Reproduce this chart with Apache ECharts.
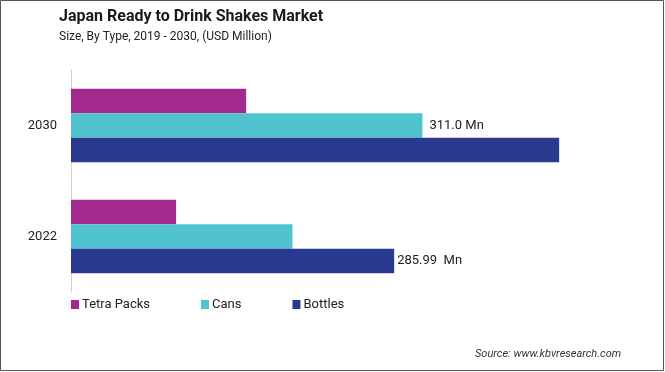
<!DOCTYPE html>
<html>
<head>
<meta charset="utf-8">
<script src="https://cdn.jsdelivr.net/npm/echarts@6/dist/echarts.min.js"></script>
<style>
html,body{margin:0;padding:0;background:#fff;}
#c{width:665px;height:372px;}
</style>
</head>
<body>
<div id="c"></div>
<script>
const categories = ['2022', '2030'];
const seriesNames = ['Tetra Packs', 'Cans', 'Bottles'];
const tetraPacks = [93, 155];
const cans = [196, 311.0];
const bottles = [285.99, 432];
const labelText = { 'Cans-2030': '311.0 Mn', 'Bottles-2022': '285.99  Mn' };

const colors = { 'Tetra Packs': '#A22A8F', 'Cans': '#4FC4CF', 'Bottles': '#2A3990' };
const FONT = 'Roboto';

function mkData(name, arr, dist) {
  return arr.map((v, i) => {
    const key = name + '-' + categories[i];
    if (labelText[key]) {
      return { value: v, label: { show: true, position: 'right', distance: dist, formatter: labelText[key],
        color: '#222', fontSize: 13, fontFamily: FONT } };
    }
    return v;
  });
}

const chart = echarts.init(document.getElementById('c'), null, { renderer: 'canvas' });
chart.setOption({
  animation: false,
  backgroundColor: '#fff',
  title: [
    { text: 'Japan Ready to Drink Shakes Market', left: 54, top: 4,
      textStyle: { fontFamily: 'Roboto', fontWeight: 'bold', fontSize: 16, color: '#1a1a1a' } },
    { text: 'Size, By Type, 2019 - 2030, (USD Million)', left: 54, top: 26,
      textStyle: { fontFamily: FONT, fontWeight: 'normal', fontSize: 12, color: '#222' } },
    { text: 'Source: www.kbvresearch.com', left: 470, top: 344,
      textStyle: { fontFamily: FONT, fontStyle: 'italic', fontWeight: 'normal', fontSize: 11, color: '#333' } }
  ],
  legend: {
    data: seriesNames,
    left: 66, top: 293,
    itemWidth: 8, itemHeight: 9, itemGap: 51,
    icon: 'rect',
    textStyle: { fontFamily: FONT, fontSize: 13, color: '#222', padding: [0, 0, 0, -2] }
  },
  grid: { left: 71, top: 70, bottom: 80, right: 29, containLabel: false },
  xAxis: { type: 'value', min: 0, max: 500, show: false },
  yAxis: {
    type: 'category', data: categories,
    axisLine: { show: true, lineStyle: { color: '#d0d0d0', width: 1 } },
    axisTick: { show: false },
    axisLabel: { fontFamily: FONT, fontSize: 13, color: '#222', margin: 14 }
  },
  series: [
    { name: 'Tetra Packs', type: 'bar', data: mkData('Tetra Packs', tetraPacks, 5), itemStyle: { color: colors['Tetra Packs'] },
      barGap: '0%', barCategoryGap: '34%' },
    { name: 'Cans', type: 'bar', data: mkData('Cans', cans, 7), itemStyle: { color: colors['Cans'] },
      barGap: '0%', barCategoryGap: '34%' },
    { name: 'Bottles', type: 'bar', data: mkData('Bottles', bottles, 3), itemStyle: { color: colors['Bottles'] },
      barGap: '0%', barCategoryGap: '34%' }
  ],
  graphic: [
    { type: 'rect', shape: { x: 0.5, y: 0.5, width: 663, height: 370 }, style: { fill: 'none', stroke: '#555', lineWidth: 1 }, silent: true }
  ]
});
</script>
</body>
</html>
